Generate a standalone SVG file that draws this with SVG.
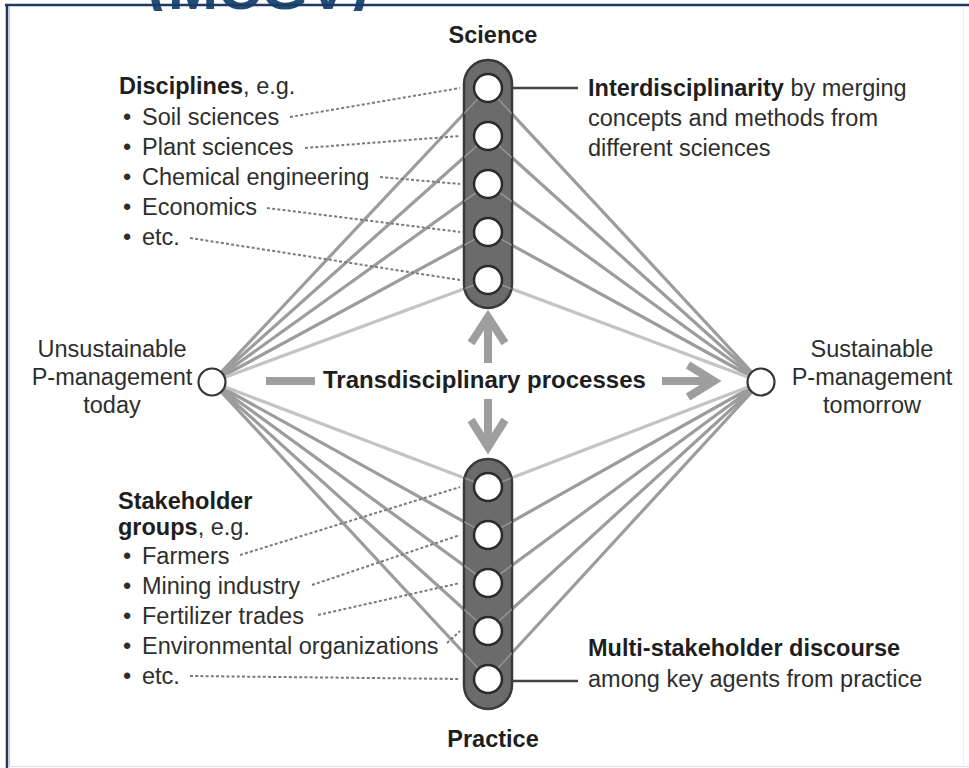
<svg xmlns="http://www.w3.org/2000/svg" width="969" height="768" viewBox="0 0 969 768">
<defs>
<style>
.t{font-family:"Liberation Sans",Arial,sans-serif;font-size:23.5px;fill:#2e2e2e}
.b{font-weight:bold;fill:#1e1e1e}
.mid{text-anchor:middle}
.ln{stroke:#9c9c9c;stroke-width:3.2;fill:none}
.lnl{stroke:#c4c4c4;stroke-width:3.2;fill:none}
.dot{stroke:#7a7a7a;stroke-width:2;stroke-dasharray:3 2.2;fill:none}
.arr{stroke:#9e9e9e;stroke-width:8;fill:none}
.pill{fill:#6b6b6b;stroke:#3a3a3a;stroke-width:2.5}
.c{fill:#fff;stroke:#2a2a2a;stroke-width:2.5}
.ov{stroke:#b4b4b4;stroke-width:1.6;fill:none;opacity:0.55}
</style>
<clipPath id="topclip"><rect x="0" y="0" width="969" height="11"/></clipPath>
<clipPath id="sclip"><rect x="464" y="60" width="48" height="248" rx="24"/></clipPath>
<clipPath id="pclip"><rect x="464" y="459" width="48" height="250" rx="24"/></clipPath>
</defs>
<rect width="969" height="768" fill="#fff"/>
<g id="frame">
<text x="148" y="9" clip-path="url(#topclip)" style="font-family:'Liberation Sans',Arial,sans-serif;font-size:60px;font-weight:bold;fill:#1f4e79">(MCGV)</text>
<line x1="5" y1="5" x2="969" y2="5" stroke="#203864" stroke-width="2.5"/>
<line x1="7" y1="4" x2="7" y2="768" stroke="#203864" stroke-width="2.5"/>
<line x1="9.5" y1="7" x2="9.5" y2="766" stroke="#b9c8e2" stroke-width="1"/>
<line x1="8" y1="766.5" x2="969" y2="766.5" stroke="#dcdcec" stroke-width="1.2"/>
<line x1="963.5" y1="7" x2="963.5" y2="766" stroke="#eeeef6" stroke-width="1"/>
</g>
<g id="connectors">
<path class="ln" d="M212,382L488,88M212,382L488,136M212,382L488,184M212,382L488,232M212,382L488,535M212,382L488,583M212,382L488,631M212,382L488,679"/>
<path class="ln" d="M761,382L488,88M761,382L488,136M761,382L488,184M761,382L488,232M761,382L488,535M761,382L488,583M761,382L488,631M761,382L488,679"/>
<path class="lnl" d="M212,382L488,280M212,382L488,487M761,382L488,280M761,382L488,487"/>
<path class="dot" d="M290,117L460,88M305,148L460,136M380,177L460,184M267,208L460,232M190,238L460,280"/>
<path class="dot" d="M240,555L460,487M312,585L460,535M318,615L460,583M447,643L460,631M190,676L460,679"/>
<line x1="512" y1="88" x2="578" y2="88" stroke="#444" stroke-width="2.5"/>
<line x1="512" y1="681" x2="578" y2="681" stroke="#444" stroke-width="2.5"/>
<line class="arr" x1="266" y1="381" x2="315" y2="381"/>
<line class="arr" x1="662" y1="381" x2="712" y2="381"/>
<polyline class="arr" points="688,365 714,381 688,397"/>
<line class="arr" x1="488" y1="363" x2="488" y2="318"/>
<polyline class="arr" points="471,343 488,317 505,343"/>
<line class="arr" x1="488" y1="399" x2="488" y2="446"/>
<polyline class="arr" points="471,420 488,447 505,420"/>
</g>
<g id="science">
<rect class="pill" x="464" y="60" width="48" height="248" rx="24"/>
<g clip-path="url(#sclip)">
<path class="ov" d="M212,382L488,88M212,382L488,136M212,382L488,184M212,382L488,232M212,382L488,280M761,382L488,88M761,382L488,136M761,382L488,184M761,382L488,232M761,382L488,280"/>
</g>
<circle class="c" cx="488" cy="88" r="14"/>
<circle class="c" cx="488" cy="136" r="14"/>
<circle class="c" cx="488" cy="184" r="14"/>
<circle class="c" cx="488" cy="232" r="14"/>
<circle class="c" cx="488" cy="280" r="14"/>
<text class="t b mid" x="493" y="43">Science</text>
</g>
<g id="practice">
<rect class="pill" x="464" y="459" width="48" height="250" rx="24"/>
<g clip-path="url(#pclip)">
<path class="ov" d="M212,382L488,487M212,382L488,535M212,382L488,583M212,382L488,631M212,382L488,679M761,382L488,487M761,382L488,535M761,382L488,583M761,382L488,631M761,382L488,679"/>
</g>
<circle class="c" cx="488" cy="487" r="14"/>
<circle class="c" cx="488" cy="535" r="14"/>
<circle class="c" cx="488" cy="583" r="14"/>
<circle class="c" cx="488" cy="631" r="14"/>
<circle class="c" cx="488" cy="679" r="14"/>
<text class="t b mid" x="493" y="747">Practice</text>
</g>
<g id="unsustainable">
<circle cx="212" cy="382" r="13.5" fill="#fff" stroke="#333" stroke-width="2.2"/>
<text class="t mid" x="112" y="357">Unsustainable</text>
<text class="t mid" x="112" y="385">P-management</text>
<text class="t mid" x="112" y="413">today</text>
</g>
<g id="sustainable">
<circle cx="761" cy="382" r="13.5" fill="#fff" stroke="#333" stroke-width="2.2"/>
<text class="t mid" x="872" y="357">Sustainable</text>
<text class="t mid" x="872" y="385">P-management</text>
<text class="t mid" x="872" y="413">tomorrow</text>
</g>
<g id="transdisciplinary">
<text class="t b" x="323" y="388" style="font-size:24px">Transdisciplinary processes</text>
</g>
<g id="disciplines">
<text class="t" x="119" y="94"><tspan class="b">Disciplines</tspan>, e.g.</text>
<text class="t" x="123" y="125">•</text><text class="t" x="142" y="125">Soil sciences</text>
<text class="t" x="123" y="155">•</text><text class="t" x="142" y="155">Plant sciences</text>
<text class="t" x="123" y="185">•</text><text class="t" x="142" y="185">Chemical engineering</text>
<text class="t" x="123" y="215">•</text><text class="t" x="142" y="215">Economics</text>
<text class="t" x="123" y="245">•</text><text class="t" x="142" y="245">etc.</text>
</g>
<g id="stakeholders">
<text class="t b" x="118" y="509">Stakeholder</text>
<text class="t" x="118" y="535"><tspan class="b">groups</tspan>, e.g.</text>
<text class="t" x="123" y="564">•</text><text class="t" x="142" y="564">Farmers</text>
<text class="t" x="123" y="594">•</text><text class="t" x="142" y="594">Mining industry</text>
<text class="t" x="123" y="624">•</text><text class="t" x="142" y="624">Fertilizer trades</text>
<text class="t" x="123" y="654">•</text><text class="t" x="142" y="654">Environmental organizations</text>
<text class="t" x="123" y="684">•</text><text class="t" x="142" y="684">etc.</text>
</g>
<g id="interdisciplinarity">
<text class="t" x="588" y="96"><tspan class="b">Interdisciplinarity</tspan> by merging</text>
<text class="t" x="588" y="126">concepts and methods from</text>
<text class="t" x="588" y="156">different sciences</text>
</g>
<g id="multistakeholder">
<text class="t b" x="588" y="656">Multi-stakeholder discourse</text>
<text class="t" x="588" y="687">among key agents from practice</text>
</g>
</svg>
